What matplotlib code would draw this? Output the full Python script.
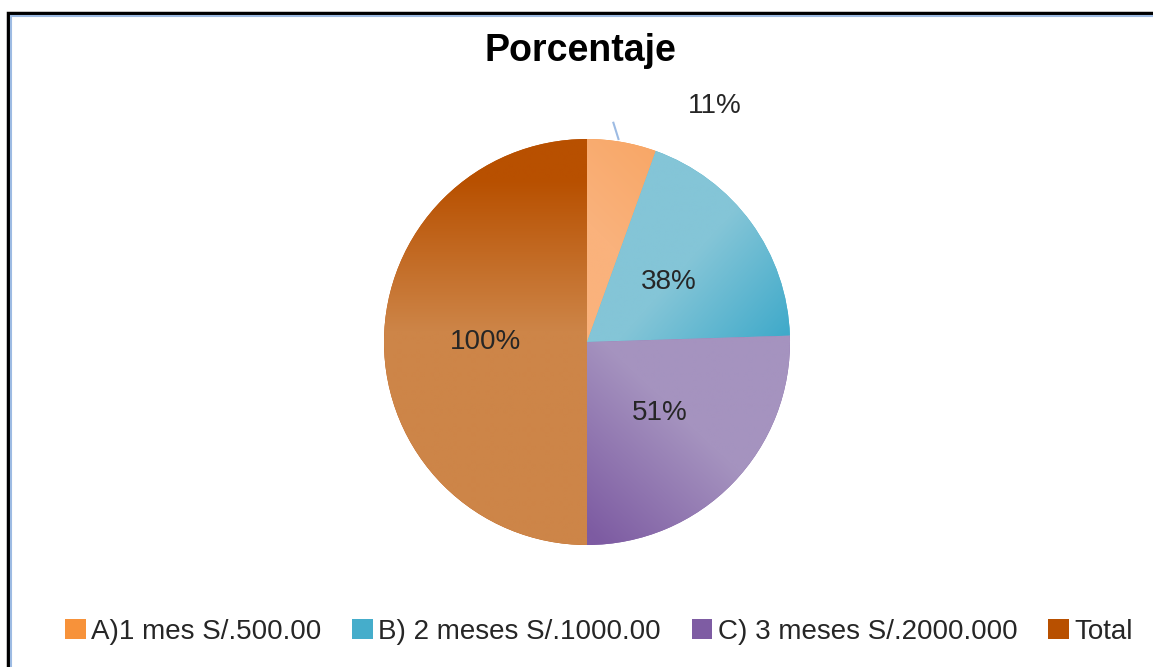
import matplotlib
matplotlib.use("Agg")
import matplotlib.pyplot as plt
import numpy as np
from matplotlib.colors import LinearSegmentedColormap
from matplotlib.patches import Rectangle

plt.rcParams['font.family'] = ['Liberation Sans', 'DejaVu Sans']

# data
categories = ["A)1 mes S/.500.00", "B) 2 meses S/.1000.00",
              "C) 3 meses S/.2000.000", "Total"]
values = [11, 38, 51, 100]
value_labels = ["11%", "38%", "51%", "100%"]

# base colours (legend) and gradient ends for the slices
base_colors = ["#F7923A", "#45ADCB", "#7E5CA3", "#B85000"]
grad = [
    # (light, dark, start point light, end point dark)
    ("#FAB27C", "#F8A767", (0.0, 0.6), (0.35, 0.95)),
    ("#84C5D7", "#40AACA", (0.55, 0.45), (1.0, 0.05)),
    ("#A593BF", "#7D5BA2", (0.55, -0.45), (0.05, -0.98)),
    ("#CD8548", "#B85000", (0.0, 0.05), (0.0, 0.8)),
]

W, H = 1153, 667
fig = plt.figure(figsize=(W / 100, H / 100), dpi=100)

# frame lines of the original
fig.patches.append(Rectangle((8 / W, -0.05), 1.2, 1 - 13 / H + 0.05,
                             transform=fig.transFigure, fill=False,
                             edgecolor="black", linewidth=2.5, zorder=0))
fig.patches.append(Rectangle((11 / W, -0.05), 1.2, 1 - 16 / H + 0.05,
                             transform=fig.transFigure, fill=False,
                             edgecolor="#9DBBE3", linewidth=1.5, zorder=0))

r = 203
cx, cy = 587, 342
ax = fig.add_axes([(cx - r) / W, (H - cy - r) / H, 2 * r / W, 2 * r / H])

wedges, texts = ax.pie(values, colors=base_colors, startangle=90,
                       counterclock=False, radius=1,
                       wedgeprops=dict(linewidth=0))
ax.set_xlim(-1, 1)
ax.set_ylim(-1, 1)
ax.set_aspect("equal")
ax.axis("off")

# gradient fill clipped to each wedge
xs = np.linspace(-1, 1, 400)
X, Y = np.meshgrid(xs, xs[::-1])
for w, (c0, c1, p0, p1) in zip(wedges, grad):
    d = np.array(p1) - np.array(p0)
    t = ((X - p0[0]) * d[0] + (Y - p0[1]) * d[1]) / (d @ d)
    t = np.clip(t, 0, 1)
    cmap = LinearSegmentedColormap.from_list("g", [c0, c1])
    im = ax.imshow(t, cmap=cmap, extent=(-1, 1, -1, 1), vmin=0, vmax=1,
                   zorder=2, interpolation="bilinear")
    im.set_clip_path(w)

# value labels
for w, lab in zip(wedges[1:], value_labels[1:]):
    ang = np.deg2rad((w.theta1 + w.theta2) / 2)
    ax.text(0.5 * np.cos(ang), 0.5 * np.sin(ang), lab, ha="center",
            va="center", fontsize=20, color="#262626", zorder=5)

ax.text(0.63, 1.165, value_labels[0], ha="center", va="center",
        fontsize=20, color="#262626", zorder=5, clip_on=False)
ax.plot([0.13, 0.155], [1.08, 1.0], color="#9DBBE3", linewidth=1.5,
        zorder=5, clip_on=False)

fig.text(580 / W, 1 - 51 / H, "Porcentaje", ha="center", va="center",
         fontsize=27, fontweight="bold", color="black")

fig.legend(wedges, categories, loc="center", ncol=4, frameon=False,
           bbox_to_anchor=(599 / W, 1 - 632 / H), fontsize=20,
           handlelength=0.75, handleheight=0.75, handletextpad=0.2,
           columnspacing=1.1, labelcolor="#262626")

fig.savefig("out.png", dpi=100)
